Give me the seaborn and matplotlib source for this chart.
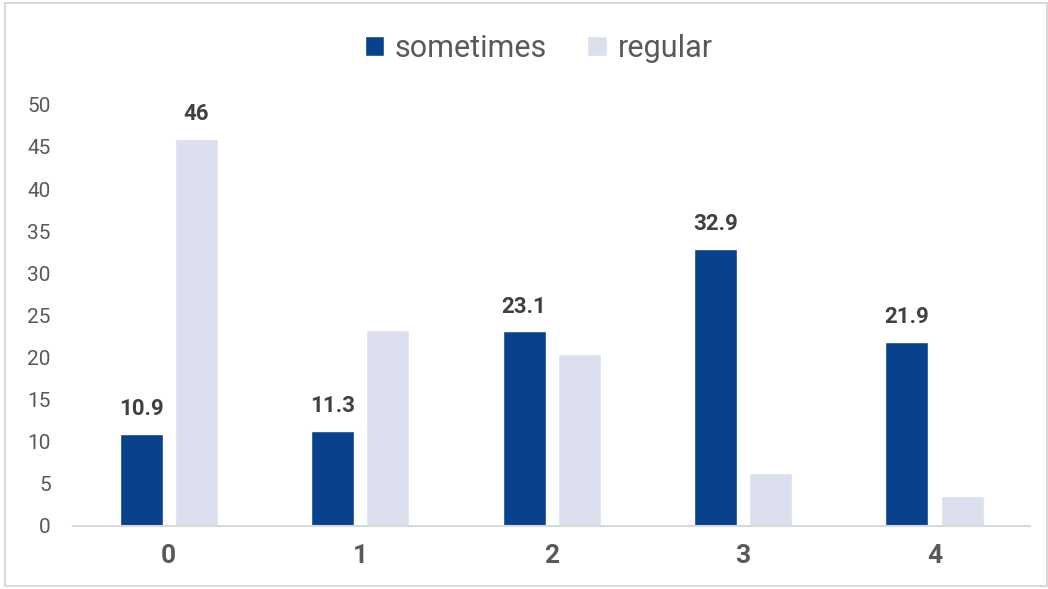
import pandas as pd
import seaborn as sns
import matplotlib.pyplot as plt
from matplotlib.patches import Rectangle

# valeurs
categories = ['0', '1', '2', '3', '4']
sometimes = [10.9, 11.3, 23.1, 32.9, 21.9]
regular = [46, 23.3, 20.4, 6.3, 3.6]

df = pd.DataFrame({
    'cat': categories * 2,
    'value': sometimes + regular,
    'serie': ['sometimes'] * 5 + ['regular'] * 5,
})

sns.set_theme(style='white')
plt.rcParams['font.family'] = ['Roboto', 'DejaVu Sans']

fig = plt.figure(figsize=(10.48, 5.89), dpi=100)
ax = fig.add_axes([0.0697, 0.107, 0.9133, 0.715])

palette = {'sometimes': '#08428C', 'regular': '#DCDFEE'}
sns.barplot(data=df, x='cat', y='value', hue='serie', palette=palette,
            width=0.576, gap=0.22, ax=ax, saturation=1)

ax.set_xlim(-0.5, 4.5)
ax.set_ylim(0, 50)
ax.set_yticks(range(0, 51, 5))
ax.set_xlabel('')
ax.set_ylabel('')
for s in ['top', 'right', 'left']:
    ax.spines[s].set_visible(False)
ax.spines['bottom'].set_color('#D9D9D9')
ax.spines['bottom'].set_linewidth(1.5)
ax.tick_params(axis='y', length=0, pad=16, labelsize=15, labelcolor='#595959')
ax.tick_params(axis='x', length=0, pad=13, labelsize=19, labelcolor='#595959')
for t in ax.get_xticklabels():
    t.set_fontweight('bold')

# étiquettes: toutes pour "sometimes", seulement la plus haute pour "regular"
c_some, c_reg = ax.containers[0], ax.containers[1]
ax.bar_label(c_some, labels=[f'{v:g}' for v in sometimes], padding=10,
             fontsize=16, fontweight='bold', color='#404040', clip_on=False)
reg_labels = [f'{v:g}' if v == max(regular) else '' for v in regular]
ax.bar_label(c_reg, labels=reg_labels, padding=10,
             fontsize=16, fontweight='bold', color='#404040', clip_on=False)

ax.legend(loc='center', bbox_to_anchor=(0.514, 0.918), bbox_transform=fig.transFigure,
          ncol=2, frameon=False, fontsize=22, handlelength=0.65, handleheight=0.65,
          handletextpad=0.35, columnspacing=1.3, labelcolor='#595959')

fig.patches.append(Rectangle((0.005, 0.005), 0.994, 0.99, transform=fig.transFigure,
                             fill=False, edgecolor='#D9D9D9', linewidth=1.5))

fig.savefig('out.png', dpi=100)
